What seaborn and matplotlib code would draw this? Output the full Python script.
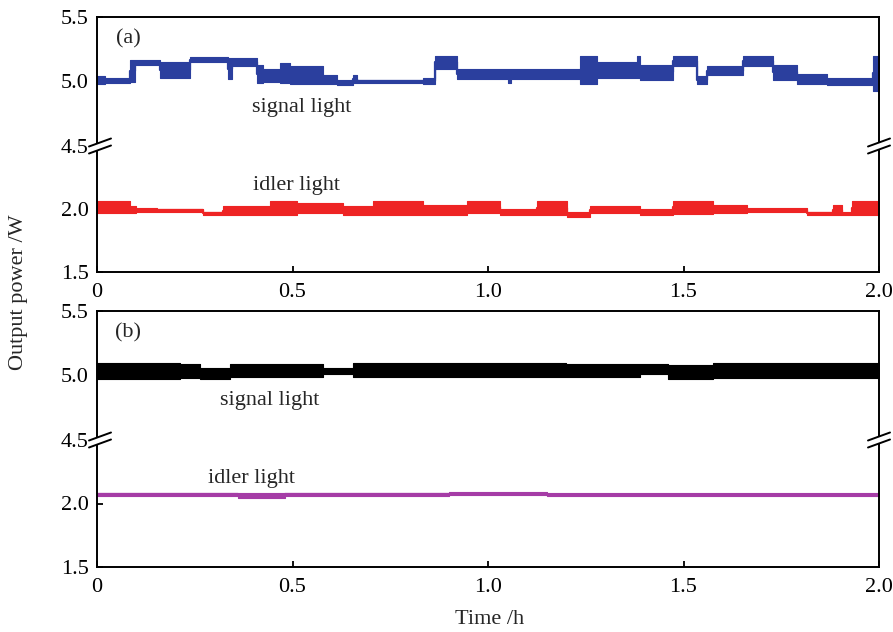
import numpy as np
import pandas as pd
import matplotlib
matplotlib.use("Agg")
import matplotlib.pyplot as plt
from matplotlib.lines import Line2D
from matplotlib.patches import Polygon
import seaborn as sns

# ---------------- data ----------------
x_ticks = [0, 0.5, 1.0, 1.5, 2.0]
x_ticklabels = ["0", "0.5", "1.0", "1.5", "2.0"]
y_top_ticks = [4.5, 5.0, 5.5]
y_bot_ticks = [1.5, 2.0]

# panel (a) signal light: segment start times (h), lower / upper envelope (W)
sig_a_t = [0.00, 0.02, 0.084, 0.097, 0.161, 0.238, 0.335, 0.345, 0.409, 0.425,
           0.468, 0.494, 0.578, 0.614, 0.655, 0.665, 0.834, 0.864, 0.921, 1.05,
           1.06, 1.235, 1.279, 1.381, 1.39, 1.473, 1.535, 1.56, 1.652, 1.729,
           1.79, 1.867, 1.985, 2.0]
sig_a_lo = [4.98, 4.99, 5.00, 5.13, 5.03, 5.15, 5.02, 5.12, 4.99, 5.00,
            4.99, 4.98, 4.98, 4.97, 4.99, 4.99, 4.98, 5.10, 5.02, 4.99,
            5.02, 4.98, 5.03, 5.03, 5.01, 5.12, 4.98, 5.05, 5.12, 5.01,
            4.98, 4.97, 4.93, 4.93]
sig_a_hi = [5.04, 5.025, 5.17, 5.17, 5.15, 5.19, 5.18, 5.18, 5.13, 5.10,
            5.14, 5.12, 5.05, 5.01, 5.05, 5.015, 5.03, 5.20, 5.10, 5.10,
            5.10, 5.20, 5.15, 5.20, 5.13, 5.20, 5.04, 5.12, 5.20, 5.13,
            5.06, 5.03, 5.20, 5.20]

# panel (a) idler light
idl_a_t = [0.00, 0.084, 0.10, 0.153, 0.271, 0.322, 0.442, 0.511, 0.629, 0.706,
           0.834, 0.946, 1.031, 1.125, 1.202, 1.261, 1.389, 1.473, 1.575, 1.662,
           1.816, 1.882, 1.906, 1.93, 2.0]
idl_a_lo = [1.97, 1.966, 1.975, 1.98, 1.95, 1.952, 1.95, 1.966, 1.952, 1.95,
            1.95, 1.966, 1.95, 1.95, 1.94, 1.966, 1.95, 1.96, 1.966, 1.975,
            1.952, 1.952, 1.95, 1.95, 1.95]
idl_a_hi = [2.065, 2.02, 2.005, 2.0, 1.98, 2.02, 2.06, 2.045, 2.02, 2.06,
            2.03, 2.06, 2.0, 2.06, 1.98, 2.02, 2.0, 2.065, 2.03, 2.005,
            1.98, 2.03, 1.975, 2.065, 2.065]

# panel (b) signal light
sig_b_t = [0.00, 0.212, 0.263, 0.34, 0.578, 0.655, 1.2, 1.39, 1.46, 1.575, 2.0]
sig_b_lo = [4.97, 4.98, 4.97, 4.99, 5.01, 4.99, 4.99, 5.01, 4.97, 4.98, 4.98]
sig_b_hi = [5.10, 5.09, 5.06, 5.09, 5.06, 5.10, 5.09, 5.09, 5.08, 5.10, 5.10]

# panel (b) idler light
idl_b_t = [0.00, 0.36, 0.48, 0.90, 1.15, 1.50, 2.0]
idl_b_lo = [2.062, 2.045, 2.060, 2.066, 2.058, 2.060, 2.060]
idl_b_hi = [2.085, 2.080, 2.082, 2.090, 2.080, 2.080, 2.080]

colors = {"sig_a": "#2b3f9e", "idl_a": "#ee2424", "sig_b": "#000000", "idl_b": "#a53ca6"}

# ---------------- style ----------------
sns.set_theme(style="white")
plt.rcParams["font.family"] = ["Liberation Serif", "DejaVu Serif"]
plt.rcParams["font.size"] = 16
plt.rcParams["axes.linewidth"] = 1.4
plt.rcParams["axes.edgecolor"] = "black"

FS = 16
FW, FH = 893, 632
fig = plt.figure(figsize=(FW / 100, FH / 100), dpi=100)
fig.patch.set_facecolor("white")

X0, X1 = 97, 879


def fx(px):
    return px / FW


def fy(py):
    return 1 - py / FH


def draw_series(ax, t, lo, hi, color):
    t = np.asarray(t)
    lo = np.asarray(lo)
    hi = np.asarray(hi)
    ax.fill_between(t, lo, hi, step="post", color=color, lw=0.8, edgecolor=color)
    df = pd.DataFrame({"t": t, "p": (lo + hi) / 2})
    sns.lineplot(data=df, x="t", y="p", ax=ax, color=color, lw=1.6,
                 drawstyle="steps-post", legend=False)


def style_axis(ax):
    ax.set_xlim(0, 2.0)
    ax.set_xlabel("")
    ax.set_ylabel("")
    ax.tick_params(axis="y", direction="in", length=4, width=1.3, colors="black",
                   labelsize=FS, pad=6, left=True, right=False)
    ax.tick_params(axis="x", direction="in", length=4, width=1.3, colors="black",
                   labelsize=FS, pad=8, bottom=True, top=False)
    for s in ax.spines.values():
        s.set_color("black")
        s.set_linewidth(1.4)


def break_marks(xpx, ypx, left, right):
    gap = 3.5
    rise = 4.0
    xa, xb = xpx - left, xpx + right
    poly = Polygon([[fx(xa), fy(ypx + gap + rise)], [fx(xb), fy(ypx + gap - rise)],
                    [fx(xb), fy(ypx - gap - rise)], [fx(xa), fy(ypx - gap + rise)]],
                   closed=True, transform=fig.transFigure, facecolor="white",
                   edgecolor="none", zorder=20)
    fig.add_artist(poly)
    for off in (gap, -gap):
        fig.add_artist(Line2D([fx(xa), fx(xb)], [fy(ypx + off + rise), fy(ypx + off - rise)],
                              transform=fig.transFigure, color="black", lw=1.4, zorder=21))


panels = [
    dict(top=17, brk=146, bot=272, sig=("sig_a", sig_a_t, sig_a_lo, sig_a_hi),
         idl=("idl_a", idl_a_t, idl_a_lo, idl_a_hi), tag="(a)",
         sig_lab=(0.524, 4.80), idl_lab=(0.509, 2.19)),
    dict(top=311, brk=440, bot=567, sig=("sig_b", sig_b_t, sig_b_lo, sig_b_hi),
         idl=("idl_b", idl_b_t, idl_b_lo, idl_b_hi), tag="(b)",
         sig_lab=(0.442, 4.81), idl_lab=(0.396, 2.195)),
]

for p in panels:
    ax_t = fig.add_axes([fx(X0), fy(p["brk"]), fx(X1 - X0), (p["brk"] - p["top"]) / FH])
    ax_b = fig.add_axes([fx(X0), fy(p["bot"]), fx(X1 - X0), (p["bot"] - p["brk"]) / FH])

    key, t, lo, hi = p["sig"]
    draw_series(ax_t, t, lo, hi, colors[key])
    key, t, lo, hi = p["idl"]
    draw_series(ax_b, t, lo, hi, colors[key])

    for ax in (ax_t, ax_b):
        style_axis(ax)

    ax_t.set_ylim(4.5, 5.5)
    ax_t.set_yticks(y_top_ticks)
    ax_t.set_yticklabels([f"{v:.1f}" for v in y_top_ticks])
    ax_t.spines["bottom"].set_visible(False)
    ax_t.set_xticks([])

    ax_b.set_ylim(1.5, 2.5)
    ax_b.set_yticks(y_bot_ticks)
    ax_b.set_yticklabels([f"{v:.1f}" for v in y_bot_ticks])
    ax_b.spines["top"].set_visible(False)
    ax_b.set_xticks(x_ticks)
    ax_b.set_xticklabels(x_ticklabels)

    ax_t.text(0.08, 5.33, p["tag"], ha="center", va="center", fontsize=FS)
    ax_t.text(p["sig_lab"][0], p["sig_lab"][1], "signal light", ha="center", va="center", fontsize=FS)
    ax_b.text(p["idl_lab"][0], p["idl_lab"][1], "idler light", ha="center", va="center", fontsize=FS)

    break_marks(X0, p["brk"], 8, 14)
    break_marks(X1, p["brk"], 11, 11)

fig.text(fx(19), fy(292), "Output power /W", rotation=90, ha="center", va="center", fontsize=FS)
fig.text(fx(490), fy(620), "Time /h", ha="center", va="center", fontsize=FS)

fig.savefig("out.png", dpi=100, facecolor="white")
